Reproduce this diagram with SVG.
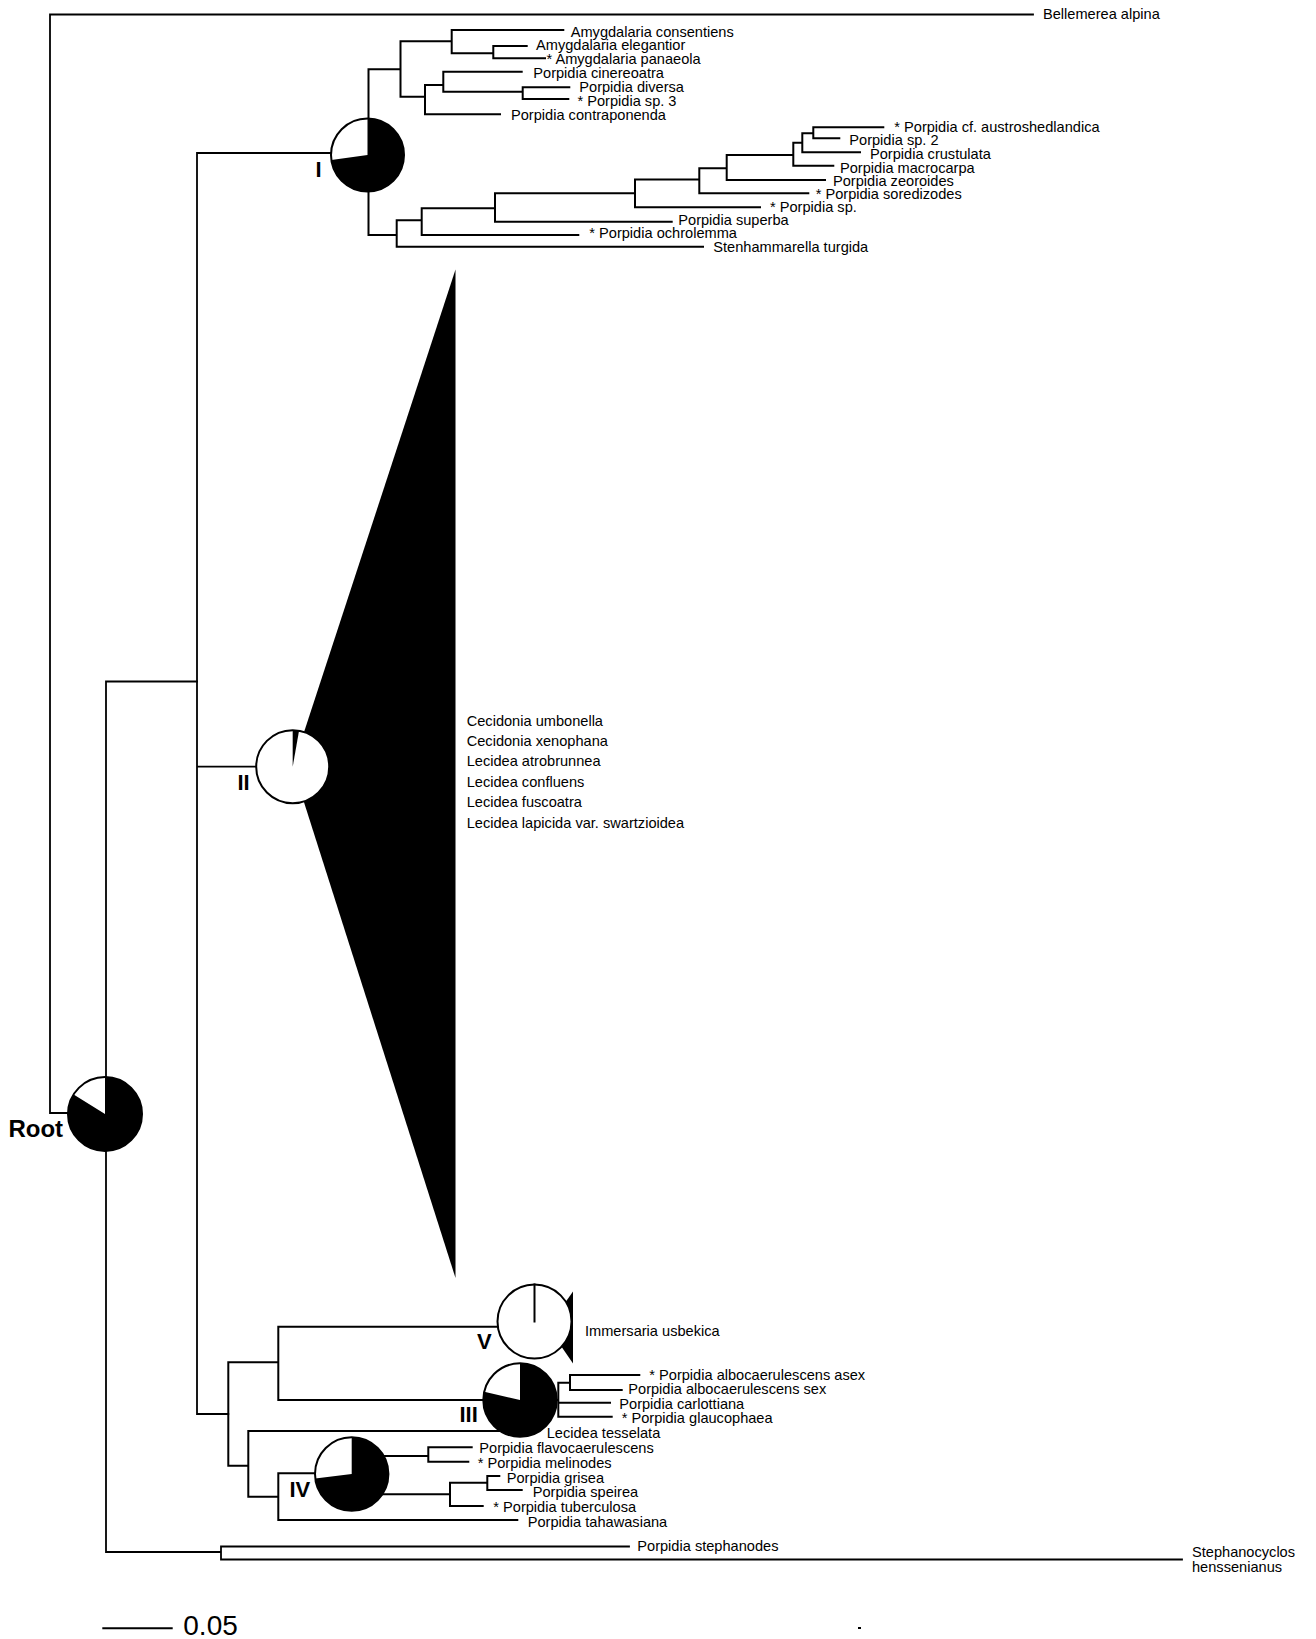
<svg xmlns="http://www.w3.org/2000/svg" width="1316" height="1639" viewBox="0 0 1316 1639">
<style>
.br{fill:none;stroke:#000;stroke-width:2;stroke-linecap:square}
.rt{fill:none;stroke:#000;stroke-width:1.8;stroke-linecap:square}
.pie{fill:#fff;stroke:#000;stroke-width:2}
.blk{fill:#000;stroke:none}
text{font-family:"Liberation Sans",Arial,sans-serif;fill:#000}
.lf{font-size:14.6px}
.num{font-size:22px;font-weight:bold}
</style>
<rect width="1316" height="1639" fill="#fff"/>
<g id="connectors">
<path class="rt" d="M1033,14.5 H50 V1113 H70 M197,681.5 H106 V1552 H221 M221,1546.5 V1559.5 M221,1546.5 H629 M221,1559.5 H1182"/>
<path class="rt" d="M197,153 V1414 M197,153 H331 M197,766.7 H257 M197,1414 H228.3"/>
<path class="br" d="M368.5,118.5 V69.3 H400.5 M400.5,41.3 V96.7 M400.5,41.3 H451.7 M451.7,30 V53.3 M451.7,30 H563.3 M451.7,53.3 H493.3 M493.3,46 V58.3 M493.3,46 H526.7 M493.3,58.3 H545 M400.5,96.7 H425 M425,85 V114.3 M425,114.3 H500 M425,85 H443.3 M443.3,71.7 V91.7 M443.3,71.7 H521.7 M443.3,91.7 H522.7 M522.7,87.3 V99 M522.7,87.3 H569.3 M522.7,99 H568.3"/>
<path class="br" d="M368.5,191.5 V235 H396.7 M396.7,220.3 V246.7 M396.7,246.7 H703 M396.7,220.3 H421.7 M421.7,208.3 V235 M421.7,235 H578.3 M421.7,208.3 H495 M495,193.3 V221.7 M495,221.7 H671.7 M495,193.3 H635 M635,179.5 V207.3 M635,207.3 H760 M635,179.5 H699.3 M699.3,168.3 V193.3 M699.3,193.3 H808.3 M699.3,168.3 H726.7 M726.7,155 V180 M726.7,180 H825 M726.7,155 H793.3 M793.3,142.7 V165.7 M793.3,165.7 H833.3 M793.3,142.7 H802.3 M802.3,133.3 V152.3 M802.3,152.3 H860 M802.3,133.3 H813.3 M813.3,127.3 V138.3 M813.3,127.3 H883.3 M813.3,138.3 H839.3"/>
<path class="br" d="M228.3,1362.3 V1465.7 M228.3,1362.3 H278.3 M278.3,1326.7 V1400 M278.3,1326.7 H498 M278.3,1400 H484 M228.3,1465.7 H248.3 M248.3,1431 V1496.7 M248.3,1431 H505 M248.3,1496.7 H278.3 M278.3,1473.3 V1520 M278.3,1473.3 H316 M278.3,1520 H517.3"/>
<path class="br" d="M385,1456 H428.3 M428.3,1447.3 V1461.7 M428.3,1447.3 H471.7 M428.3,1461.7 H468.3 M360,1494.3 H450 M450,1482.7 V1506 M450,1506 H482.7 M450,1482.7 H487.3 M487.3,1476 V1490 M487.3,1476 H499.3 M487.3,1490 H521.7"/>
<path class="br" d="M530,1400 H558.3 M558.3,1382.7 V1416.7 M558.3,1416.7 H611.7 M558.3,1402.7 H610 M558.3,1382.7 H570 M570,1375 V1390 M570,1375 H639.3 M570,1390 H621.7"/>
<path class="br" d="M103.3,1628.3 H171.7"/>
<rect x="858" y="1627" width="3" height="2" fill="#000"/>
</g>
<g id="clade-II-collapsed">
<polygon class="blk" points="292.7,766.7 455.5,269.5 455.5,1278"/>
</g>
<g id="clade-V-collapsed">
<polygon class="blk" points="573,1291.5 573,1363.5 548,1327"/>
</g>
<g id="node-root">
<circle class="pie" cx="105" cy="1114" r="37"/>
<path class="blk" d="M105,1114 L105,1077 A37,37 0 1 1 73.62,1094.39 Z"/>
<text x="8.4" y="1137" style="font-size:24px;font-weight:bold">Root</text>
</g>
<g id="node-I">
<circle class="pie" cx="367.5" cy="155" r="36.5"/>
<path class="blk" d="M367.5,155 L367.5,118.5 A36.5,36.5 0 1 1 331.35,160.08 Z"/>
<text class="num" x="315.5" y="177">I</text>
</g>
<g id="node-II">
<circle class="pie" cx="292.7" cy="766.7" r="36.5"/>
<path class="blk" d="M292.7,766.7 L292.7,730.2 A36.5,36.5 0 0 1 299.04,730.75 Z"/>
<text class="num" x="237.5" y="790">II</text>
</g>
<g id="node-V">
<circle class="pie" cx="534.5" cy="1321.5" r="37"/>
<path class="br" d="M534.5,1321.5 V1284.5"/>
<text class="num" x="477" y="1349">V</text>
</g>
<g id="node-III">
<circle class="pie" cx="520" cy="1400" r="36.7"/>
<path class="blk" d="M520,1400 L520,1363.3 A36.7,36.7 0 1 1 484.24,1391.74 Z"/>
<text class="num" x="459.5" y="1422">III</text>
</g>
<g id="node-IV">
<circle class="pie" cx="351.7" cy="1474" r="36.7"/>
<path class="blk" d="M351.7,1474 L351.7,1437.3 A36.7,36.7 0 1 1 315.28,1478.47 Z"/>
<text class="num" x="289.5" y="1497">IV</text>
</g>
<g id="leaves" class="lf">
<text class="lf" x="1043" y="19">Bellemerea alpina</text>
<text class="lf" x="570.7" y="37">Amygdalaria consentiens</text>
<text class="lf" x="536" y="50">Amygdalaria elegantior</text>
<text class="lf" x="546.5" y="63.5">* Amygdalaria panaeola</text>
<text class="lf" x="533.3" y="77.5">Porpidia cinereoatra</text>
<text class="lf" x="579.3" y="92.3">Porpidia diversa</text>
<text class="lf" x="577.5" y="105.5">* Porpidia sp. 3</text>
<text class="lf" x="511" y="119.5">Porpidia contraponenda</text>
<text class="lf" x="894.3" y="131.5">* Porpidia cf. austroshedlandica</text>
<text class="lf" x="849.3" y="145">Porpidia sp. 2</text>
<text class="lf" x="870" y="159">Porpidia crustulata</text>
<text class="lf" x="840" y="172.5">Porpidia macrocarpa</text>
<text class="lf" x="833" y="186">Porpidia zeoroides</text>
<text class="lf" x="815.7" y="199.3">* Porpidia soredizodes</text>
<text class="lf" x="770" y="211.7">* Porpidia sp.</text>
<text class="lf" x="678.3" y="225">Porpidia superba</text>
<text class="lf" x="589.3" y="238.3">* Porpidia ochrolemma</text>
<text class="lf" x="713.3" y="251.7">Stenhammarella turgida</text>
<text class="lf" x="466.7" y="725.5">Cecidonia umbonella</text>
<text class="lf" x="466.7" y="746">Cecidonia xenophana</text>
<text class="lf" x="466.7" y="766.3">Lecidea atrobrunnea</text>
<text class="lf" x="466.7" y="786.7">Lecidea confluens</text>
<text class="lf" x="466.7" y="807">Lecidea fuscoatra</text>
<text class="lf" x="466.7" y="827.5">Lecidea lapicida var. swartzioidea</text>
<text class="lf" x="585" y="1336">Immersaria usbekica</text>
<text class="lf" x="649.3" y="1380">* Porpidia albocaerulescens asex</text>
<text class="lf" x="628.3" y="1394.3">Porpidia albocaerulescens sex</text>
<text class="lf" x="619.3" y="1409">Porpidia carlottiana</text>
<text class="lf" x="621.7" y="1423.3">* Porpidia glaucophaea</text>
<text class="lf" x="546.7" y="1438.3">Lecidea tesselata</text>
<text class="lf" x="479.3" y="1453.3">Porpidia flavocaerulescens</text>
<text class="lf" x="477.7" y="1468.3">* Porpidia melinodes</text>
<text class="lf" x="506.7" y="1482.7">Porpidia grisea</text>
<text class="lf" x="532.7" y="1497.3">Porpidia speirea</text>
<text class="lf" x="493.3" y="1511.7">* Porpidia tuberculosa</text>
<text class="lf" x="527.7" y="1526.7">Porpidia tahawasiana</text>
<text class="lf" x="637.3" y="1551">Porpidia stephanodes</text>
<text class="lf" x="1192" y="1557">Stephanocyclos</text>
<text class="lf" x="1192" y="1572">henssenianus</text>
</g>
<g id="scale">
<text x="183.3" y="1635" style="font-size:28px">0.05</text>
</g>
</svg>
